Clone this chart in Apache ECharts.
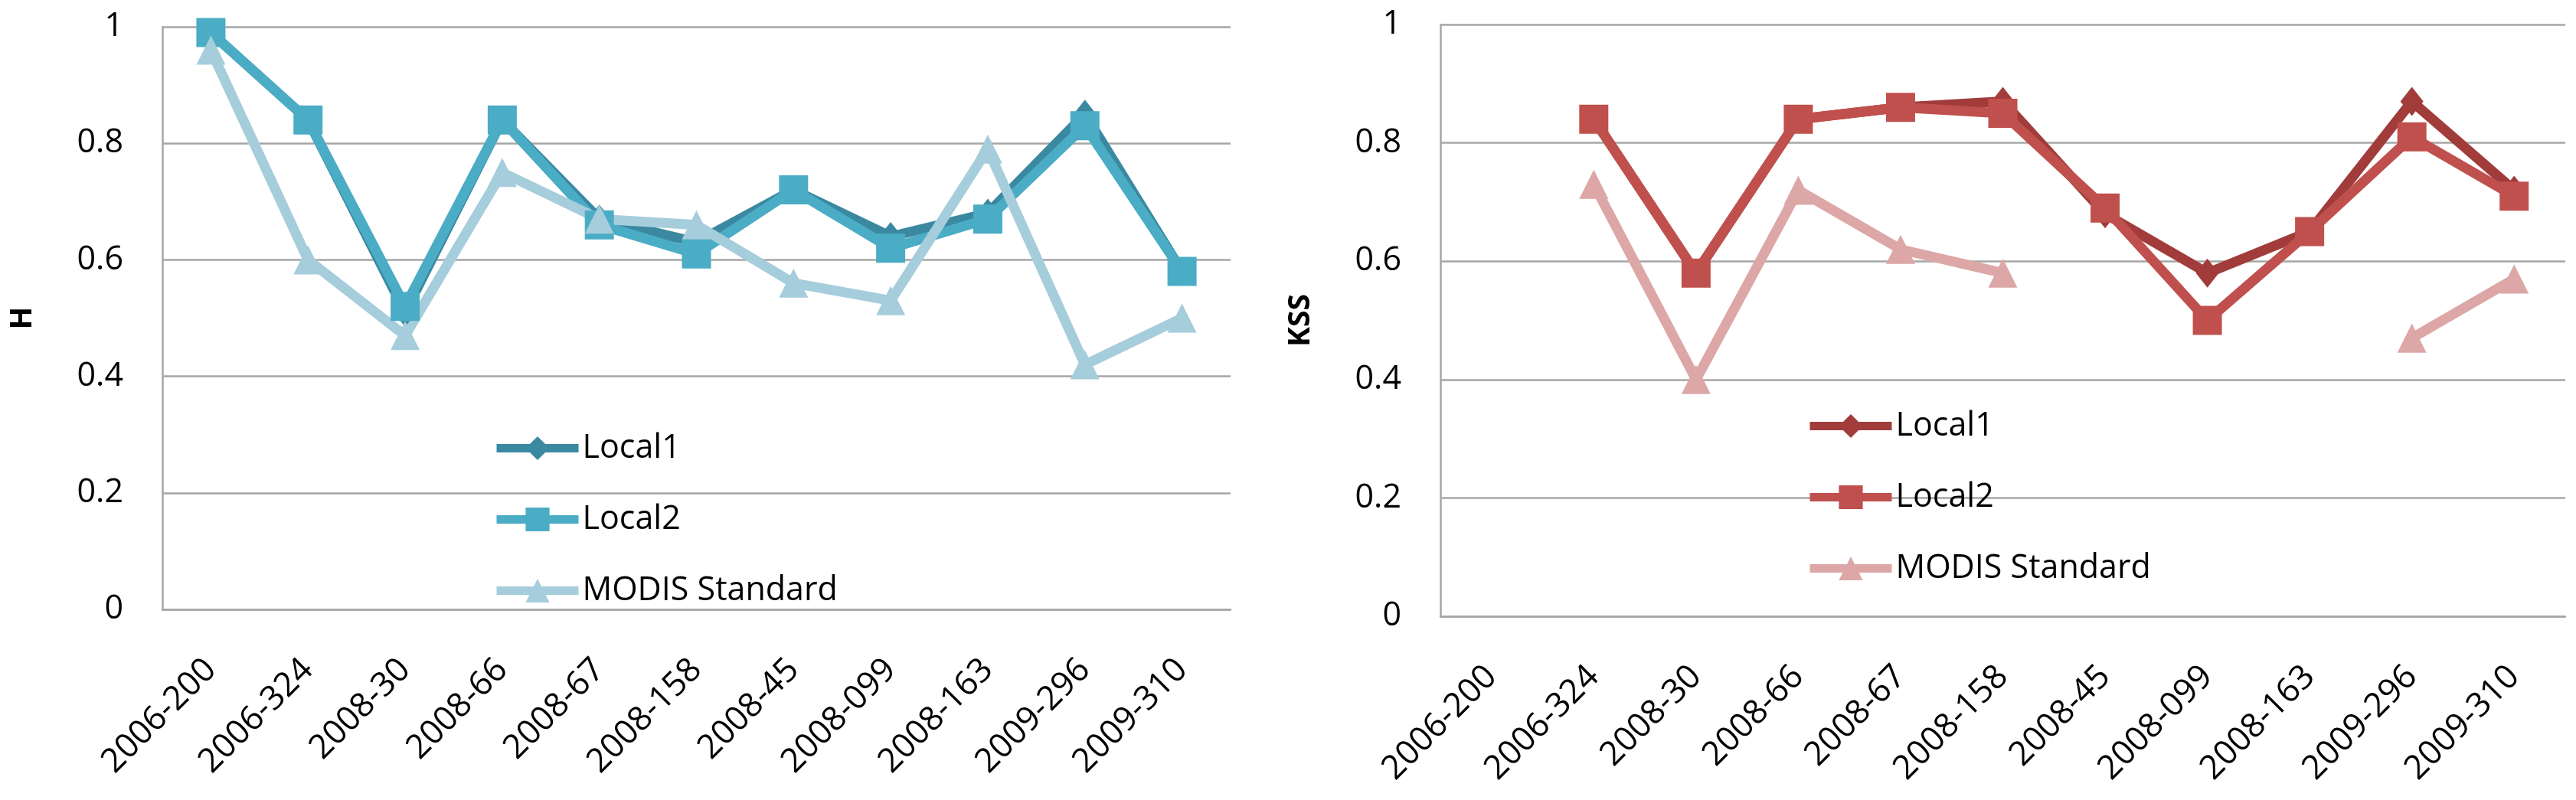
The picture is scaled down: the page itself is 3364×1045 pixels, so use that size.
<!DOCTYPE html>
<html>
<head>
<meta charset="utf-8">
<script src="https://cdn.jsdelivr.net/npm/echarts@6/dist/echarts.min.js"></script>
<style>
html,body{margin:0;padding:0;background:#fff;}
#chart{width:3364px;height:1045px;}
</style>
</head>
<body>
<div id="chart"></div>
<script>
const categories = ['2006-200','2006-324','2008-30','2008-66','2008-67','2008-158','2008-45','2008-099','2008-163','2009-296','2009-310'];
const yTicks = [0, 0.2, 0.4, 0.6, 0.8, 1];

const hLocal1 = [0.99, 0.84, 0.51, 0.84, 0.67, 0.63, 0.72, 0.64, 0.68, 0.85, 0.58];
const hLocal2 = [0.99, 0.84, 0.52, 0.84, 0.66, 0.61, 0.72, 0.62, 0.67, 0.83, 0.58];
const hModis  = [0.96, 0.60, 0.47, 0.75, 0.67, 0.66, 0.56, 0.53, 0.79, 0.42, 0.50];

const kssLocal1 = [null, 0.84, 0.58, 0.84, 0.86, 0.87, 0.68, 0.58, 0.65, 0.87, 0.72];
const kssLocal2 = [null, 0.84, 0.58, 0.84, 0.86, 0.85, 0.69, 0.50, 0.65, 0.81, 0.71];
const kssModis  = [null, 0.73, 0.40, 0.72, 0.62, 0.58, null, null, null, 0.47, 0.57];

const seriesNames = ['Local1', 'Local2', 'MODIS Standard'];
const hColors = ['#3A89A1', '#4BACC6', '#A6CDDB'];
const kColors = ['#A13C3A', '#C0504D', '#DCA7A6'];
const symbols = ['diamond', 'rect', 'triangle'];
const symbolSizes = [[30, 38], 38, 38];

const FONT = "'Open Sans', 'Liberation Sans', sans-serif";
const GRID_COLOR = '#A6A6A6';

function xAxis(gridIndex) {
  return {
    type: 'category', gridIndex, data: categories, boundaryGap: true,
    axisTick: {show: false},
    axisLine: {show: true, lineStyle: {color: GRID_COLOR, width: 2.5}},
    axisLabel: {rotate: 45, margin: 72, fontSize: 44, fontFamily: FONT, color: '#000', interval: 0}
  };
}
function yAxis(gridIndex, name) {
  return {
    type: 'value', gridIndex, min: 0, max: 1, interval: 0.2,
    name, nameLocation: 'middle', nameGap: 163, nameMoveOverlap: false,
    nameTextStyle: {fontSize: 39, fontWeight: 'bold', fontFamily: FONT, color: '#000'},
    axisTick: {show: false},
    axisLine: {show: true, lineStyle: {color: GRID_COLOR, width: 2.5}},
    splitLine: {show: true, lineStyle: {color: GRID_COLOR, width: 2.5}},
    axisLabel: {margin: 51, fontSize: 43, fontFamily: FONT, color: '#000',
      formatter: v => String(Math.round(v * 10) / 10)}
  };
}
function mkSeries(prefix, idx, data, colors, axisIdx) {
  return {
    type: 'line', name: prefix + ' ' + seriesNames[idx], data,
    xAxisIndex: axisIdx, yAxisIndex: axisIdx,
    symbol: symbols[idx], symbolSize: symbolSizes[idx], showAllSymbol: true,
    connectNulls: false,
    lineStyle: {color: colors[idx], width: 13},
    itemStyle: {color: colors[idx], borderWidth: 0},
    emphasis: {disabled: true}
  };
}
function legend(prefix, left, top) {
  return {
    orient: 'vertical', left, top, padding: 0,
    itemWidth: 107, itemHeight: 39, itemGap: 50,
    selectedMode: false,
    lineStyle: {width: 11},
    data: seriesNames.map(n => prefix + ' ' + n),
    formatter: n => n.slice(prefix.length + 1),
    textStyle: {fontSize: 43, fontFamily: FONT, color: '#000'}
  };
}

const chart = echarts.init(document.getElementById('chart'), null, {renderer: 'canvas'});
chart.setOption({
  animation: false,
  backgroundColor: '#fff',
  grid: [
    {left: 212, top: 35, width: 1395, height: 761, containLabel: false},
    {left: 1881, top: 32, width: 1469, height: 773, containLabel: false}
  ],
  xAxis: [xAxis(0), xAxis(1)],
  yAxis: [yAxis(0, 'H'), yAxis(1, 'KSS')],
  legend: [legend('H', 643, 564), legend('KSS', 2358, 535)],
  series: [
    mkSeries('H', 0, hLocal1, hColors, 0),
    mkSeries('H', 1, hLocal2, hColors, 0),
    mkSeries('H', 2, hModis, hColors, 0),
    mkSeries('KSS', 0, kssLocal1, kColors, 1),
    mkSeries('KSS', 1, kssLocal2, kColors, 1),
    mkSeries('KSS', 2, kssModis, kColors, 1)
  ]
});
</script>
</body>
</html>
